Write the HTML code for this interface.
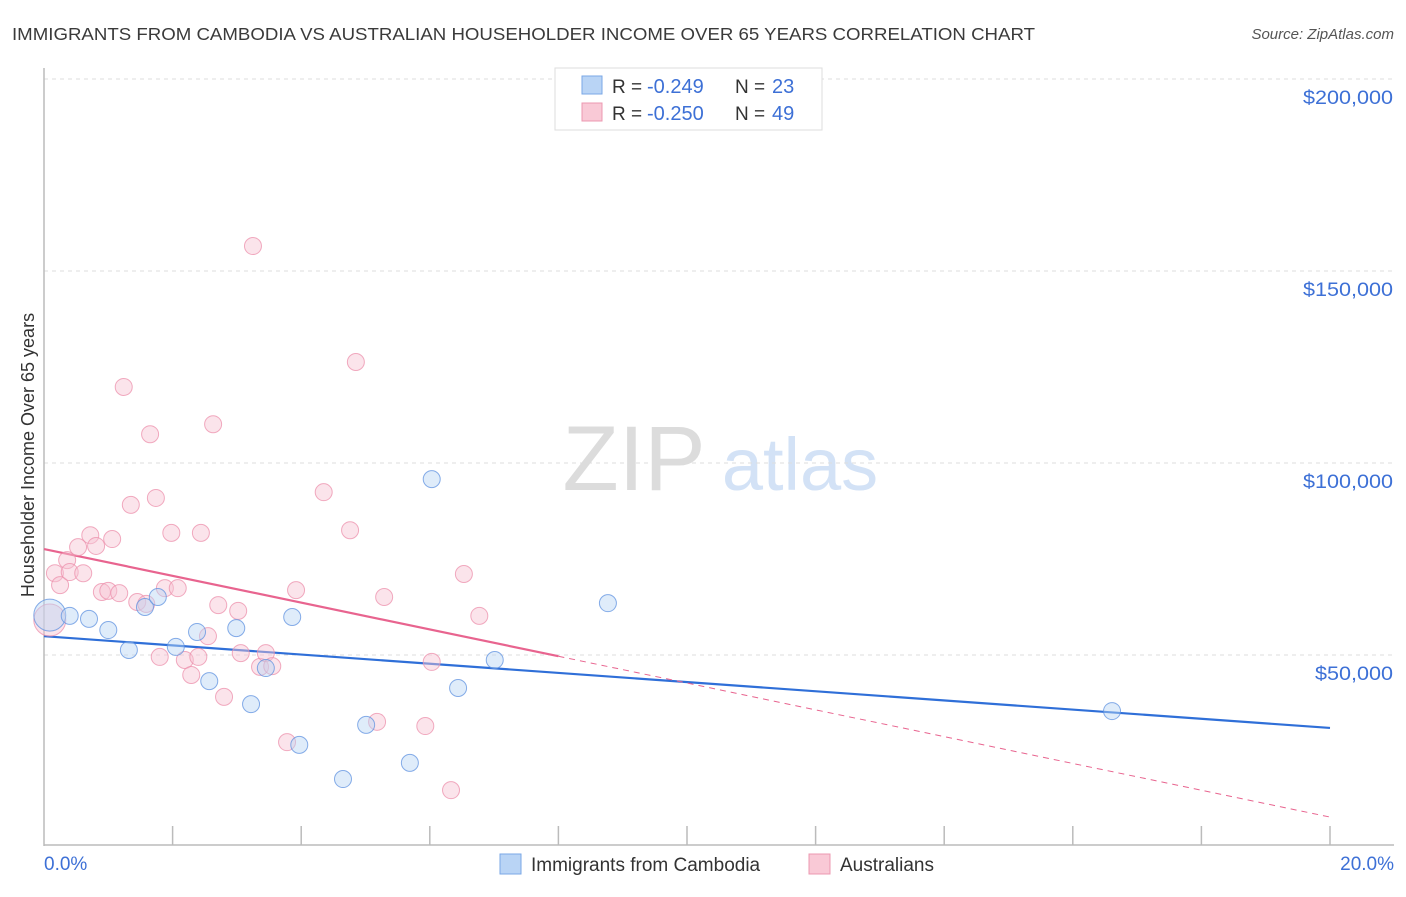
<!DOCTYPE html>
<html><head><meta charset="utf-8"><style>
body{margin:0;background:#fff;font-family:"Liberation Sans",sans-serif}
svg text{font-family:"Liberation Sans",sans-serif}
</style></head><body>
<svg id="c" width="1406" height="892" xmlns="http://www.w3.org/2000/svg">
<text x="12" y="40" font-size="17.5" fill="#3a3a3a" textLength="1023" lengthAdjust="spacingAndGlyphs">IMMIGRANTS FROM CAMBODIA VS AUSTRALIAN HOUSEHOLDER INCOME OVER 65 YEARS CORRELATION CHART</text>
<text x="1394" y="39" font-size="15" fill="#555" font-style="italic" text-anchor="end">Source: ZipAtlas.com</text>
<text transform="translate(34,455) rotate(-90)" font-size="18" fill="#333" text-anchor="middle">Householder Income Over 65 years</text>
<g>
<text x="634" y="490" font-size="92" fill="#dcdcdc" font-family="Liberation Serif" text-anchor="middle">ZIP</text>
<text x="800" y="490" font-size="74" fill="#d3e2f6" text-anchor="middle">atlas</text>
</g>
<g id="grid"></g><g id="axes"></g><g id="trend"></g><g id="pts"></g>
<g>
<rect x="555" y="68" width="267" height="62" fill="#fff" stroke="#ddd"/>
<rect x="582" y="76" width="20" height="18" fill="#b9d4f5" stroke="#7aa7e6"/>
<text x="612" y="93" font-size="19" fill="#333">R =</text>
<text x="647" y="93" font-size="20" fill="#3d70d6">-0.249</text>
<text x="735" y="93" font-size="19" fill="#333">N =</text>
<text x="772" y="93" font-size="20" fill="#3d70d6">23</text>
<rect x="582" y="103" width="20" height="18" fill="#f9c9d6" stroke="#ec98b0"/>
<text x="612" y="120" font-size="19" fill="#333">R =</text>
<text x="647" y="120" font-size="20" fill="#3d70d6">-0.250</text>
<text x="735" y="120" font-size="19" fill="#333">N =</text>
<text x="772" y="120" font-size="20" fill="#3d70d6">49</text>
</g>
<g>
<rect x="500" y="854" width="21" height="20" fill="#b9d4f5" stroke="#7aa7e6"/>
<text x="531" y="871" font-size="19" fill="#333">Immigrants from Cambodia</text>
<rect x="809" y="854" width="21" height="20" fill="#f9c9d6" stroke="#ec98b0"/>
<text x="840" y="871" font-size="19" fill="#333">Australians</text>
</g>
</svg>
<script>
const yTicks=[50,100,150,200];
const xTicks=[0,2,4,6,8,10,12,14,16,18,20];
const blueX=[0.09,0.40,0.70,1.00,1.32,1.57,1.77,2.05,2.38,2.57,2.99,3.22,3.45,3.86,3.97,4.65,5.01,5.69,6.03,6.44,7.01,8.77,16.61];
const blueY=[60.4,60.2,59.4,56.5,51.3,62.5,65.1,52.1,56.0,43.2,57.0,37.2,46.6,59.9,26.6,17.7,31.8,21.9,95.8,41.4,48.7,63.5,35.4];
const pinkX=[0.09,0.17,0.25,0.36,0.40,0.53,0.61,0.72,0.81,1.06,0.90,1.00,1.17,1.24,1.35,1.45,1.59,1.65,1.74,1.80,1.88,1.98,2.08,2.19,2.29,2.40,2.44,2.55,2.63,2.71,2.80,3.02,3.06,3.25,3.36,3.45,3.55,3.78,3.92,4.35,4.76,4.85,5.18,5.29,5.93,6.03,6.33,6.53,6.77];
const pinkY=[59.1,71.3,68.2,74.7,71.6,78.1,71.3,81.2,78.4,80.2,66.4,66.7,66.1,119.8,89.1,63.8,63.3,107.5,90.9,49.5,67.4,81.8,67.4,48.7,44.8,49.5,81.8,54.9,110.1,63.0,39.1,61.5,50.5,156.5,46.9,50.5,47.1,27.3,66.9,92.4,82.5,126.3,32.6,65.1,31.5,48.2,14.8,71.1,60.2];
const blueTrend=[54.9,31.0];
const pinkTrend=[77.6,7.8];
const pinkSolidEnd=8;
const X=v=>44+v*64.3, Y=v=>847-v*3.84;
const NS="http://www.w3.org/2000/svg";
function mk(p,t,a){const e=document.createElementNS(NS,t);for(const k in a)e.setAttribute(k,a[k]);document.getElementById(p).appendChild(e);return e;}
yTicks.forEach(v=>{
 const l=mk('grid','line',{x1:44,x2:1394,y1:Y(v),y2:Y(v),stroke:'#ddd','stroke-dasharray':'4,4'});
 
 
 const t=mk('grid','text',{x:1393,y:Y(v)+25,'font-size':19,fill:'#3d70d6','text-anchor':'end',textLength:(v>=100?90:78),lengthAdjust:'spacingAndGlyphs'});
 t.textContent='$'+v+',000';
 
 
});
mk('axes','line',{x1:44,x2:44,y1:68,y2:846,stroke:'#bbb','stroke-width':1.5});
const xa=mk('axes','line',{x1:44,x2:1394,y1:845,y2:845,stroke:'#bbb','stroke-width':1.5});


xTicks.slice(1).forEach(v=>{mk('axes','line',{x1:X(v),x2:X(v),y1:826,y2:845,stroke:'#bbb','stroke-width':1.5});});
let t0=mk('axes','text',{x:44,y:870,'font-size':19,fill:'#3d70d6'});t0.textContent=xTicks[0].toFixed(1)+'%';


let t1=mk('axes','text',{x:1394,y:870,'font-size':19,fill:'#3d70d6','text-anchor':'end'});t1.textContent=xTicks[xTicks.length-1].toFixed(1)+'%';


function pt(x,y,i,big,fill,stroke,name){
 const c=mk('pts','circle',{cx:X(x),cy:Y(y),r:big?16:8.5,fill:fill,'fill-opacity':0.45,stroke:stroke,'stroke-width':1,'stroke-opacity':0.75});
 
 
}
pinkX.forEach((x,i)=>pt(x,pinkY[i],i,i===0,'#f7c3d2','#ec8fab','point-australians'));
blueX.forEach((x,i)=>pt(x,blueY[i],i,i===0,'#b9d4f5','#5f92e0','point-cambodia'));
const bl=mk('trend','line',{x1:X(0),y1:Y(blueTrend[0]),x2:X(20),y2:Y(blueTrend[1]),stroke:'#2f6fd8','stroke-width':2.2});


const pAt=v=>pinkTrend[0]+(pinkTrend[1]-pinkTrend[0])*v/20;
const pl=mk('trend','line',{x1:X(0),y1:Y(pinkTrend[0]),x2:X(pinkSolidEnd),y2:Y(pAt(pinkSolidEnd)),stroke:'#e8648f','stroke-width':2.2});


const pd=mk('trend','line',{x1:X(pinkSolidEnd),y1:Y(pAt(pinkSolidEnd)),x2:X(20),y2:Y(pinkTrend[1]),stroke:'#e8648f','stroke-width':1,'stroke-dasharray':'6,5'});


</script>
</body></html>
